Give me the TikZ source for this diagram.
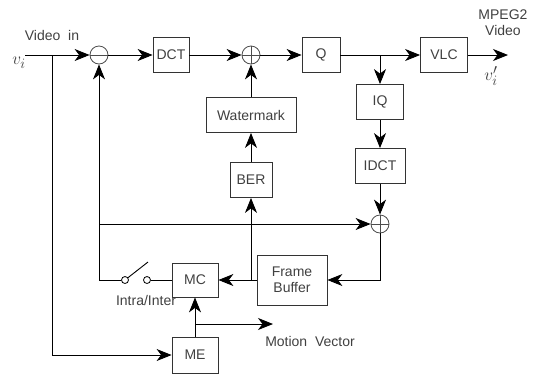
\documentclass[tikz,border=0pt]{standalone}
\usepackage{fontspec}
\setmainfont{Liberation Sans}
\usetikzlibrary{arrows.meta, positioning}

\begin{document}
\begin{tikzpicture}[
    x=1pt, y=-1pt,
    font=\fontsize{14}{16}\selectfont,
    blk/.style={rectangle, draw=black!80, line width=0.8pt, minimum height=35pt,
      align=center, inner sep=2pt, text=black!75},
    sum/.style={circle, draw=black!70, line width=0.8pt, minimum size=18pt, inner sep=0pt},
    minus/.style={sum, path picture={\draw[black!70, line width=0.8pt]
      (path picture bounding box.west) -- (path picture bounding box.east);}},
    plus/.style={sum, path picture={\draw[black!70, line width=0.8pt]
      (path picture bounding box.west) -- (path picture bounding box.east)
      (path picture bounding box.north) -- (path picture bounding box.south);}},
    swc/.style={circle, draw, line width=0.8pt, minimum size=7pt, inner sep=0pt},
    lbl/.style={text=black!75, inner sep=1pt},
    sym/.style={text=black!75, inner sep=1pt, font=\fontsize{19}{21}\selectfont},
    arr/.style={-{Stealth[length=15pt, width=12pt, inset=4.5pt]}, line width=0.9pt},
    ln/.style={line width=0.9pt}
  ]
    \useasboundingbox (0,0) rectangle (533,376);

    % forward path
    \node[minus] (sub) at (99,55) {};
    \node[blk, minimum width=36pt] (dct) at (171,55) {DCT};
    \node[plus] (add) at (251,55) {};
    \node[blk, minimum width=38pt] (q) at (321,55) {Q};
    \node[blk, minimum width=47pt] (vlc) at (444,55) {VLC};
    \node[blk, minimum width=90pt] (wm) at (251,115) {Watermark};
    \node[blk, minimum width=42pt] (ber) at (251,180) {BER};

    % reconstruction path
    \node[blk, minimum width=47pt] (iq) at (380,102) {IQ};
    \node[blk, minimum width=50pt] (idct) at (380,166) {IDCT};
    \node[plus] (add2) at (380,224) {};
    \node[blk, minimum width=70pt, minimum height=50pt] (fb) at (292,280) {Frame\\Buffer};
    \node[blk, minimum width=46pt, minimum height=34pt] (mc) at (195,280) {MC};
    \node[blk, minimum width=46pt, minimum height=36pt] (me) at (195,355) {ME};

    % switch
    \node[swc] (s1) at (125,280) {};
    \node[swc] (s2) at (147,280) {};
    \coordinate (blade) at (148,262);

    % labels
    \node[lbl] (vin) at (52,35) {Video~~in};
    \node[sym] (vi) at (19,63) {$v_i$};
    \node[lbl, align=center] (mpeg) at (503,23) {MPEG2\\Video};
    \node[sym] (vo) at (491,76) {$v'_i$};
    \node[lbl] (intra) at (146,300) {Intra/Inter};
    \node[lbl] (mvt) at (310,341) {Motion~~Vector};

    \coordinate (src) at (25,55);
    \coordinate (tap0) at (52,55);
    \coordinate (out) at (508,55);
    \coordinate (fbk) at (99,280);
    \coordinate (mv0) at (195,324);
    \coordinate (mv) at (273,324);

    \draw[arr] (src) -- (sub);
    \draw[arr] (sub) -- (dct);
    \draw[arr] (dct) -- (add);
    \draw[arr] (wm) -- (add);
    \draw[arr] (ber) -- (wm);
    \draw[arr] (add) -- (q);
    \draw[arr] (q) -- (vlc);
    \draw[arr] (vlc) -- (out);
    \draw[arr] (iq.north |- q.east) -- (iq);
    \draw[arr] (iq) -- (idct);
    \draw[arr] (idct) -- (add2);
    \draw[arr] (add2) |- (fb.east);
    \draw[arr] (fb.west) -- (mc.east);
    \draw[arr] (ber.south |- fb.west) -- (ber.south);
    \draw[arr] (fbk) -- (sub);
    \draw[arr] (sub |- add2) -- (add2);
    \draw[ln] (s1) -- (fbk);
    \draw[ln] (s1) -- (blade);
    \draw[ln] (s2) -- (mc.west);
    \draw[arr] (tap0) |- (me.west);
    \draw[arr] (me) -- (mc);
    \draw[arr] (mv0) -- (mv);
  \end{tikzpicture}
\end{document}
